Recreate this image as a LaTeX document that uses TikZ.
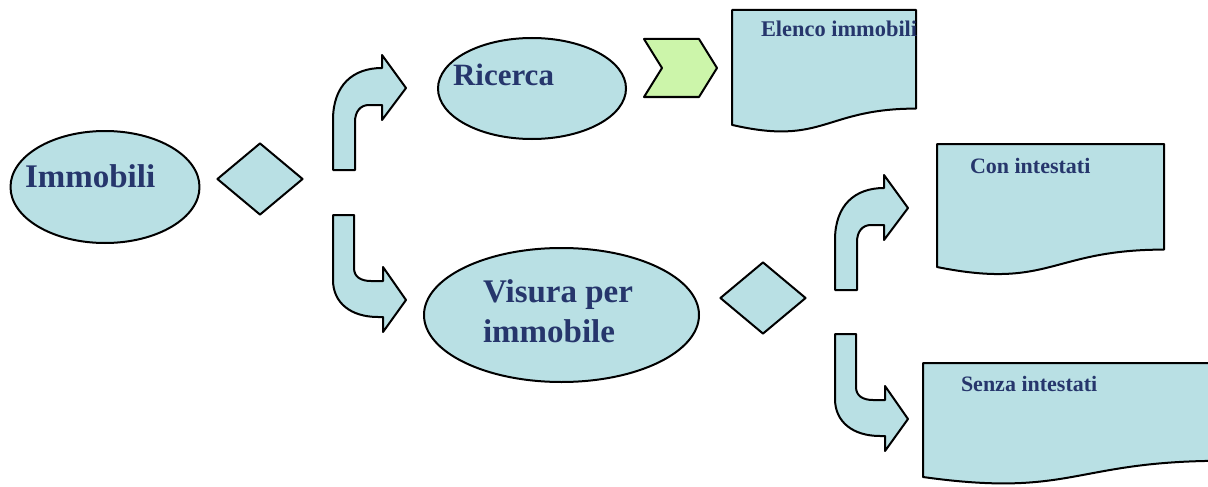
\documentclass[tikz,border=0pt]{standalone}
\usepackage{fontspec}
\setmainfont{Liberation Serif}
\usetikzlibrary{shapes.geometric}
\definecolor{fillc}{RGB}{185,224,228}
\definecolor{greenc}{RGB}{204,245,170}
\definecolor{txtc}{RGB}{38,54,108}
\tikzset{
  shp/.style={draw=black, fill=fillc},
  ell/.style={shp, ellipse, inner sep=0pt},
  dmd/.style={shp, diamond, inner sep=0pt, aspect=1.2, minimum width=86pt, minimum height=72pt},
  lbl/.style={anchor=base west, inner sep=0pt, text=txtc, font=\bfseries\fontsize{33}{39}\selectfont},
  small/.style={lbl, font=\bfseries\fontsize{22}{26}\selectfont},
  bentup/.pic={\draw[shp] (0,0) -- (0,-50) .. controls (0,-85) and (20,-102) .. (49,-102)
      -- (49,-115) -- (73,-82) -- (49,-50) -- (49,-65) -- (36,-65)
      .. controls (27,-65) and (22,-58) .. (22,-48) -- (22,0) -- cycle;},
  bentdown/.pic={\draw[shp] (0,0) -- (21,0) -- (21,53) .. controls (21,62) and (28,66) .. (38,66)
      -- (50,66) -- (50,52) -- (73,85) -- (50,117) -- (50,102) -- (45,102)
      .. controls (18,102) and (0,88) .. (0,65) -- cycle;}
}
\begin{document}
\begin{tikzpicture}[x=1pt, y=-1pt, line width=2pt, line join=round]
\useasboundingbox (0,0) rectangle (1208,487);
\clip (0,0) rectangle (1208,487);

% ellipses
\node[ell, minimum width=189pt, minimum height=112pt] (immobili) at (105,187) {};
\node[ell, minimum width=188pt, minimum height=101pt] (ricerca) at (532,88.5) {};
\node[ell, minimum width=275pt, minimum height=134pt] (visura) at (561.5,315) {};

% diamonds
\node[dmd] (d1) at (260,179) {};
\node[dmd] (d2) at (763,298) {};

% bent arrows
\pic (up1) at (333,170) {bentup};
\pic (dn1) at (333,215) {bentdown};
\pic (up2) at (835,290) {bentup};
\pic (dn2) at (835,334) {bentdown};

% chevron
\draw[fill=greenc] (644,39) -- (699,39) -- (717,68) -- (699,97) -- (644,97) -- (662,68) -- cycle;

% documents
\draw[shp] (732,10) -- (916,10) -- (916,108.6) .. controls (824,108.6) and (824,146.2) .. (732,124.9) -- cycle;
\draw[shp] (937,144) -- (1164,144) -- (1164,249.6) .. controls (1050.5,249.6) and (1050.5,289.9) .. (937,267) -- cycle;
\draw[shp] (923,363) -- (1223,363) -- (1223,460.8) .. controls (1073,460.8) and (1073,498) .. (923,477) -- cycle;

% texts
\node[lbl] (timm) at (24,187) {Immobili};
\node[lbl, font=\bfseries\fontsize{31}{37}\selectfont] (tric) at (452,85) {Ricerca};
\node[lbl] (tvis1) at (482,302) {Visura per};
\node[lbl] (tvis2) at (482,342) {immobile};
\node[small, font=\bfseries\fontsize{22.4}{26}\selectfont] (telen) at (760,37) {Elenco immobili};
\node[small] (tcon) at (969,173) {Con intestati};
\node[small] (tsen) at (960,391) {Senza intestati};
\end{tikzpicture}
\end{document}
